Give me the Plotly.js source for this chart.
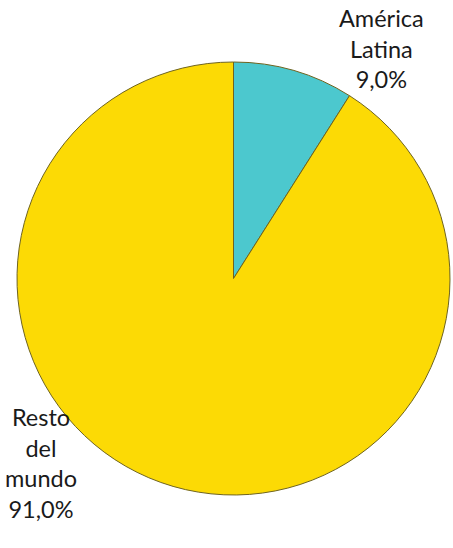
<!DOCTYPE html>
<html>
<head>
<meta charset="utf-8">
<script src="https://cdn.plot.ly/plotly-3.0.1.min.js"></script>
<style>html,body{margin:0;padding:0;background:#fff;}#chart{width:453px;height:548px;}</style>
</head>
<body>
<div id="chart"></div>
<script>
const labels = ["América Latina", "Resto del mundo"];
const labelLines = [["América", "Latina"], ["Resto", "del", "mundo"]];
const values = [9.0, 91.0];
const colors = ["#4CC8CE", "#FCDA05"];

const total = values.reduce((a, b) => a + b, 0);
const pctText = values.map(v => (v / total * 100).toFixed(1).replace(".", ",") + "%");
const annText = labelLines.map((ls, i) => ls.concat([pctText[i]]).join("<br>"));

const font = {family: "Lato, 'Noto Sans', sans-serif", size: 23.5, color: "#1a1a1a"};

const data = [{
  type: "pie",
  labels: labels,
  values: values,
  sort: false,
  direction: "clockwise",
  rotation: 0,
  textinfo: "none",
  hoverinfo: "label+percent",
  marker: {colors: colors, line: {color: "#6f6420", width: 1}},
  showlegend: false
}];

const layout = {
  width: 453, height: 548,
  margin: {l: 17, r: 3, t: 62, b: 53, pad: 0},
  paper_bgcolor: "#ffffff",
  showlegend: false,
  annotations: [
    {text: annText[0], xref: "paper", yref: "paper", x: 0.841, y: 1.032, xanchor: "center", yanchor: "middle", showarrow: false, font: font, align: "center"},
    {text: annText[1], xref: "paper", yref: "paper", x: 0.055, y: 0.074, xanchor: "center", yanchor: "middle", showarrow: false, font: font, align: "center"}
  ]
};

Plotly.newPlot("chart", data, layout, {staticPlot: true, displayModeBar: false});
</script>
</body>
</html>
